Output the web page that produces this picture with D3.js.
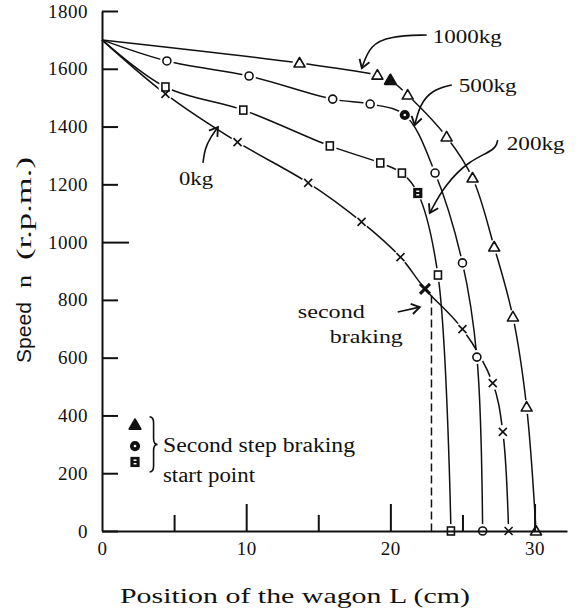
<!DOCTYPE html>
<html>
<head>
<meta charset="utf-8">
<script src="https://cdn.jsdelivr.net/npm/d3@7"></script>
<style>
  body { margin: 0; background: #fff; }
  svg { display: block; }
</style>
</head>
<body>
<div id="chart"></div>
<script>
'use strict';

// every run starts from the same speed at L = 0
const startSpeed = 1700;

// 1000kg load (triangles)
const pos1000 = [13.7, 19.1, 20.0, 21.2, 23.9, 25.7, 27.2, 28.5, 29.45, 30.1];
const speed1000 = [1620, 1578, 1561, 1509, 1364, 1222, 983, 741, 429, 0];

// 500kg load (circles)
const pos500 = [4.5, 10.2, 16.0, 18.6, 21.0, 23.1, 25.0, 26.0, 26.4];
const speed500 = [1627, 1575, 1495, 1478, 1440, 1239, 928, 602, 0];

// 200kg load (squares)
const pos200 = [4.4, 9.8, 15.8, 19.3, 20.8, 21.9, 23.3, 24.2];
const speed200 = [1537, 1457, 1333, 1274, 1239, 1170, 886, 0];

// 0kg load (crosses)
const pos0 = [4.4, 9.4, 14.3, 18.0, 20.7, 22.4, 25.0, 27.1, 27.8, 28.2];
const speed0 = [1513, 1346, 1205, 1070, 948, 838, 699, 512, 343, 0];

// index of the "second step braking start point" in each series
const stepIndex = { '1000kg': 2, '500kg': 4, '200kg': 5, '0kg': 5 };

const yTicks = [0, 200, 400, 600, 800, 1000, 1200, 1400, 1600, 1800];
const xTicks = [0, 5, 10, 15, 20, 25, 30];
const xLabelTicks = [0, 10, 20, 30];

const secondBrakingPos = 22.85;
const secondBrakingTop = 815;

// annotation arrows, in data units
const arrow1000 = [[22.52, 1717], [19.96, 1713], [18.58, 1682], [18.02, 1602]];
const arrow500 = [[24.26, 1544], [22.87, 1526], [22.04, 1475], [21.69, 1405]];
const arrow200 = [[27.44, 1353], [27.30, 1319], [25.50, 1284], [23.77, 1198], [22.73, 1101]];
const arrow0 = [[7.0, 1274], [7.14, 1325], [7.55, 1364], [8.04, 1398]];
const arrowBraking = [[20.51, 758], [22.04, 775]];

const loadLabels = [
    { text: '1000kg', pos: 22.94, speed: 1689, len: 69 },
    { text: '500kg', pos: 24.74, speed: 1520, len: 58 },
    { text: '200kg', pos: 28.07, speed: 1319, len: 58 },
    { text: '0kg', pos: 5.34, speed: 1198, len: 34 }
];

function buildChart() {

    const width = 578;
    const height = 615;

    const x = d3.scaleLinear().domain([0, 32.25]).range([102, 567]);
    const y = d3.scaleLinear().domain([0, 1800]).range([531, 11]);

    const serif = '"Liberation Serif", "DejaVu Serif", serif';
    const ink = '#111';

    const svg = d3.select('#chart')
        .append('svg')
            .attr('width', width)
            .attr('height', height)
            .style('background', '#fff');

    svg.append('defs').append('marker')
        .attr('id', 'head')
        .attr('markerUnits', 'userSpaceOnUse')
        .attr('markerWidth', 14)
        .attr('markerHeight', 14)
        .attr('viewBox', '-8 -6 10 12')
        .attr('refX', 0)
        .attr('refY', 0)
        .attr('orient', 'auto')
        .append('path')
            .attr('d', 'M-7,-4.5 L0,0 L-7,4.5')
            .attr('fill', 'none')
            .attr('stroke', ink)
            .attr('stroke-width', 1.6);

    const series = [
        { label: '1000kg', shape: 'triangle', pos: pos1000, speed: speed1000 },
        { label: '500kg', shape: 'circle', pos: pos500, speed: speed500 },
        { label: '200kg', shape: 'square', pos: pos200, speed: speed200 },
        { label: '0kg', shape: 'cross', pos: pos0, speed: speed0 }
    ].map(s => ({
        ...s,
        points: s.pos.map((p, i) => ({
            pos: p,
            speed: s.speed[i],
            step: i === stepIndex[s.label]
        }))
    }));

    const line = d3.line()
        .x(d => x(d.pos))
        .y(d => y(d.speed))
        .curve(d3.curveCatmullRom.alpha(0.5));

    const plot = svg.append('g');

    plot.selectAll('path.series')
        .data(series)
        .enter()
        .append('path')
            .attr('class', 'series')
            .attr('fill', 'none')
            .attr('stroke', ink)
            .attr('stroke-width', 1.5)
            .attr('d', s => line([{ pos: 0, speed: startSpeed }, ...s.points]));

    // white halo so the lines break around every marker
    plot.append('g')
        .selectAll('circle')
        .data(series.flatMap(s => s.points))
        .enter()
        .append('circle')
            .attr('cx', d => x(d.pos))
            .attr('cy', d => y(d.speed))
            .attr('r', 7)
            .attr('fill', '#fff');

    // dashed drop line at the second braking point
    plot.append('line')
        .attr('x1', x(secondBrakingPos))
        .attr('x2', x(secondBrakingPos))
        .attr('y1', y(secondBrakingTop))
        .attr('y2', y(0))
        .attr('stroke', ink)
        .attr('stroke-width', 1.5)
        .attr('stroke-dasharray', '8,4');

    // axes
    const yAxis = d3.axisLeft(y)
        .tickValues(yTicks)
        .tickSizeInner(-16)
        .tickSizeOuter(0)
        .tickPadding(14)
        .tickFormat(d3.format('d'));

    const yg = svg.append('g')
        .attr('transform', `translate(${x(0)},0)`)
        .call(yAxis);

    yg.selectAll('.tick line')
        .filter(d => d === 1000)
        .attr('x2', 27);

    const xAxis = d3.axisBottom(x)
        .tickValues(xTicks)
        .tickSizeInner(-16)
        .tickSizeOuter(0)
        .tickPadding(11)
        .tickFormat(d => xLabelTicks.includes(d) ? d : '');

    const xg = svg.append('g')
        .attr('transform', `translate(0,${y(0)})`)
        .call(xAxis);

    xg.selectAll('.tick line')
        .filter(d => d === 10 || d === 20 || d === 30)
        .attr('y2', -27);

    xg.selectAll('.tick line')
        .filter(d => d === 0)
        .remove();

    [yg, xg].forEach(g => {
        g.select('.domain').attr('stroke', ink).attr('stroke-width', 2);
        g.selectAll('.tick line').attr('stroke', ink).attr('stroke-width', 2);
        g.selectAll('.tick text')
            .attr('fill', ink)
            .attr('font-family', serif)
            .attr('font-size', 19)
            .attr('letter-spacing', 0.5);
    });

    // markers
    const markers = plot.append('g')
        .selectAll('g')
        .data(series.flatMap(s => s.points.map(p => ({ ...p, shape: s.shape }))))
        .enter()
        .append('g')
            .attr('transform', d => `translate(${x(d.pos)},${y(d.speed)})`);

    markers.each(function(d) {
        drawMarker(d3.select(this), d.shape, d.step);
    });

    function drawMarker(g, shape, filled) {
        const fill = filled ? ink : '#fff';
        const sw = filled ? 2.2 : 1.6;
        if (shape === 'triangle') {
            g.append('path')
                .attr('d', 'M0,-5.5 L5.5,4 L-5.5,4 Z')
                .attr('fill', fill)
                .attr('stroke', ink)
                .attr('stroke-width', sw)
                .attr('stroke-linejoin', 'round');
        } else if (shape === 'circle') {
            g.append('circle')
                .attr('r', 4)
                .attr('fill', fill)
                .attr('stroke', ink)
                .attr('stroke-width', sw);
            if (filled) {
                g.append('circle').attr('r', 1.3).attr('fill', '#fff');
            }
        } else if (shape === 'square') {
            g.append('rect')
                .attr('x', -3.5)
                .attr('y', -4)
                .attr('width', 7)
                .attr('height', 8)
                .attr('fill', fill)
                .attr('stroke', ink)
                .attr('stroke-width', sw);
            if (filled) {
                g.append('rect').attr('x', -1.5).attr('y', -2.5).attr('width', 3).attr('height', 1.5).attr('fill', '#fff');
                g.append('rect').attr('x', -1.5).attr('y', 1).attr('width', 3).attr('height', 1.5).attr('fill', '#fff');
            }
        } else {
            const r = filled ? 5 : 4;
            g.append('path')
                .attr('d', `M${-r},${-r} L${r},${r} M${r},${-r} L${-r},${r}`)
                .attr('stroke', ink)
                .attr('stroke-width', filled ? 3 : 1.6);
        }
    }

    // annotations
    const curve = d3.line()
        .x(d => x(d[0]))
        .y(d => y(d[1]))
        .curve(d3.curveBasis);

    svg.append('g')
        .selectAll('path')
        .data([arrow1000, arrow500, arrow200, arrow0, arrowBraking])
        .enter()
        .append('path')
            .attr('d', curve)
            .attr('fill', 'none')
            .attr('stroke', ink)
            .attr('stroke-width', 1.6)
            .attr('marker-end', 'url(#head)');

    svg.append('g')
        .selectAll('text')
        .data(loadLabels)
        .enter()
        .append('text')
            .attr('x', d => x(d.pos))
            .attr('y', d => y(d.speed))
            .attr('font-family', serif)
            .attr('font-size', 19)
            .attr('fill', ink)
            .attr('textLength', d => d.len)
            .attr('lengthAdjust', 'spacingAndGlyphs')
            .text(d => d.text);

    const braking = [
        { text: 'second', pos: 13.58, speed: 737, len: 67 },
        { text: 'braking', pos: 15.8, speed: 651, len: 73 }
    ];
    svg.append('g')
        .selectAll('text')
        .data(braking)
        .enter()
        .append('text')
            .attr('x', d => x(d.pos))
            .attr('y', d => y(d.speed))
            .attr('font-family', serif)
            .attr('font-size', 18)
            .attr('fill', ink)
            .attr('textLength', d => d.len)
            .attr('lengthAdjust', 'spacingAndGlyphs')
            .text(d => d.text);

    // legend: second step braking start point
    const legendPos = 2.29;
    const legend = svg.append('g');
    [['triangle', 367], ['circle', 294], ['square', 239]].forEach(([shape, speed]) => {
        drawMarker(legend.append('g')
            .attr('transform', `translate(${x(legendPos)},${y(speed)})`), shape, true);
    });

    const bx = x(3.3), by1 = y(395), by2 = y(204), bm = (by1 + by2) / 2, bw = 8;
    legend.append('path')
        .attr('d', `M${bx},${by1} Q${bx + bw / 2},${by1} ${bx + bw / 2},${by1 + 6}` +
            ` L${bx + bw / 2},${bm - 6} Q${bx + bw / 2},${bm} ${bx + bw},${bm}` +
            ` Q${bx + bw / 2},${bm} ${bx + bw / 2},${bm + 6}` +
            ` L${bx + bw / 2},${by2 - 6} Q${bx + bw / 2},${by2} ${bx},${by2}`)
        .attr('fill', 'none')
        .attr('stroke', ink)
        .attr('stroke-width', 1.6);

    legend.selectAll('text')
        .data([
            { text: 'Second step braking', speed: 273, len: 192 },
            { text: 'start point', speed: 170, len: 92 }
        ])
        .enter()
        .append('text')
            .attr('x', x(4.23))
            .attr('y', d => y(d.speed))
            .attr('font-family', serif)
            .attr('font-size', 20)
            .attr('fill', ink)
            .attr('textLength', d => d.len)
            .attr('lengthAdjust', 'spacingAndGlyphs')
            .text(d => d.text);

    // axis titles
    svg.append('text')
        .attr('x', 295)
        .attr('y', 603)
        .attr('text-anchor', 'middle')
        .attr('font-family', serif)
        .attr('font-size', 21)
        .attr('fill', ink)
        .attr('textLength', 350)
        .attr('lengthAdjust', 'spacingAndGlyphs')
        .text('Position of the wagon L (cm)');

    const yTitle = [
        { text: 'Speed', at: 363, len: 61, family: '"Liberation Sans", Arial, sans-serif', size: 21 },
        { text: 'n', at: 288, len: 13, family: serif, size: 22 },
        { text: '(r.p.m.)', at: 260, len: 103, family: serif, size: 22 }
    ];
    svg.append('g')
        .selectAll('text')
        .data(yTitle)
        .enter()
        .append('text')
            .attr('transform', d => `translate(31,${d.at}) rotate(-90)`)
            .attr('font-family', d => d.family)
            .attr('font-size', d => d.size)
            .attr('fill', ink)
            .attr('textLength', d => d.len)
            .attr('lengthAdjust', 'spacingAndGlyphs')
            .text(d => d.text);
}

window.addEventListener('DOMContentLoaded', () => {
    buildChart();
});
</script>
</body>
</html>
